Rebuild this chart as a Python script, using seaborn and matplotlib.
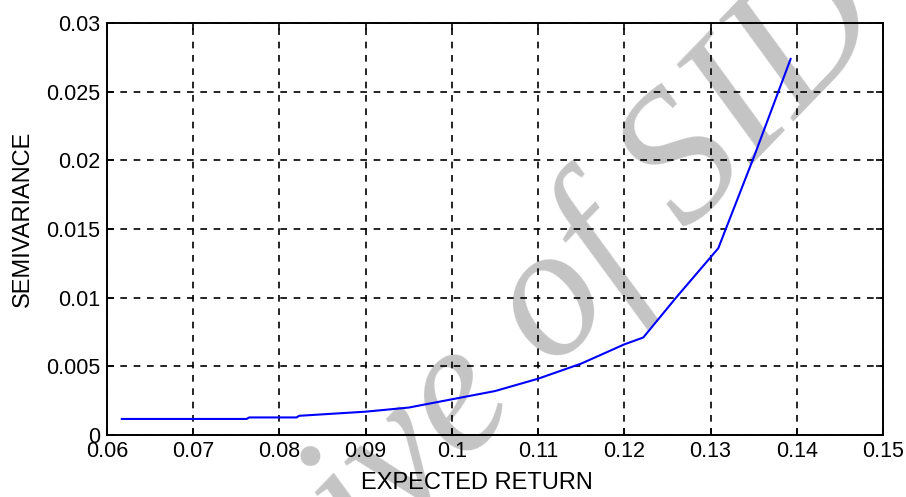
import matplotlib
matplotlib.use("Agg")
import matplotlib.pyplot as plt
import seaborn as sns
import pandas as pd

# Data
expected_return = [0.0617, 0.0762, 0.0765, 0.0820, 0.0823, 0.0900, 0.0950, 0.1000,
                   0.1050, 0.1100, 0.1150, 0.1200, 0.1222, 0.1260, 0.1309, 0.1350, 0.1393]
semivariance = [0.00117, 0.00117, 0.00128, 0.00128, 0.00140, 0.00170, 0.00200, 0.00260,
                0.00320, 0.00410, 0.00520, 0.00660, 0.00710, 0.01000, 0.01360, 0.02020, 0.02740]
x_ticks = [0.06, 0.07, 0.08, 0.09, 0.10, 0.11, 0.12, 0.13, 0.14, 0.15]
x_tick_labels = ["0.06", "0.07", "0.08", "0.09", "0.1", "0.11", "0.12", "0.13", "0.14", "0.15"]
y_ticks = [0, 0.005, 0.01, 0.015, 0.02, 0.025, 0.03]
y_tick_labels = ["0", "0.005", "0.01", "0.015", "0.02", "0.025", "0.03"]
watermark = "Archive of SID"

sns.set_theme(style="white")
plt.rcParams['font.family'] = ['Liberation Sans', 'DejaVu Sans']

df = pd.DataFrame({"EXPECTED RETURN": expected_return, "SEMIVARIANCE": semivariance})

fig = plt.figure(figsize=(9.06, 4.97), dpi=100)
fig.patch.set_facecolor("white")
ax = fig.add_axes([0.118, 0.1247, 0.8566, 0.829])
ax.patch.set_alpha(0)

sns.lineplot(data=df, x="EXPECTED RETURN", y="SEMIVARIANCE", ax=ax, color="#0000ff",
             linewidth=1.5, sort=False, estimator=None, zorder=5)

ax.set_xlim(0.06, 0.15)
ax.set_ylim(0, 0.03)
ax.set_xticks(x_ticks)
ax.set_xticklabels(x_tick_labels)
ax.set_yticks(y_ticks)
ax.set_yticklabels(y_tick_labels)

ax.grid(True, color="black", linestyle=(0, (4, 4)), linewidth=1.2, zorder=1)
ax.set_axisbelow(True)
for s in ax.spines.values():
    s.set_visible(True)
    s.set_color("black")
    s.set_linewidth(1.4)
ax.tick_params(axis="both", direction="in", length=5, width=1.2, colors="black",
               labelsize=15.5, top=True, right=True, bottom=True, left=True)
ax.tick_params(axis="x", pad=4)
ax.tick_params(axis="y", pad=5)
ax.set_xlabel("EXPECTED RETURN", fontsize=17, color="black", va="center", ha="center")
ax.set_ylabel("SEMIVARIANCE", fontsize=17, color="black", va="center", ha="center")
ax.xaxis.set_label_coords(0.477, -0.1165)
ax.yaxis.set_label_coords(-0.108, 0.524)

fig.text(0.524, 0.205, watermark, fontsize=135, family="Liberation Serif", style="italic",
         color="#c4c4c4", rotation=46, ha="center", va="center", rotation_mode="anchor",
         zorder=-1)

fig.savefig("out.png", dpi=100)
